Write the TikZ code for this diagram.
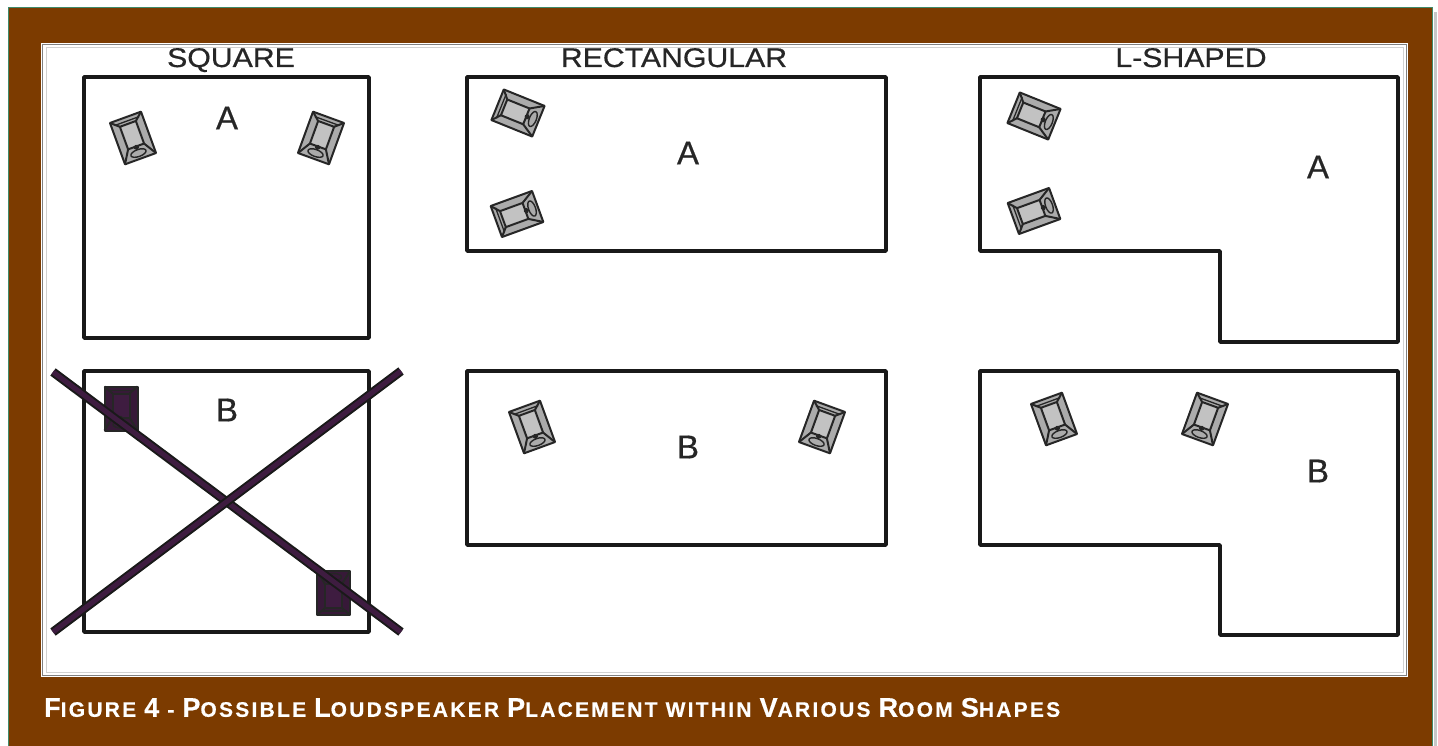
\documentclass[tikz,border=0pt]{standalone}
\usepackage{fontspec}
\usepackage{tikz,pgf}
\setmainfont{Liberation Sans}
\newfontfamily\titlefont[FakeStretch=1.12,FakeBold=0.6]{Liberation Sans}
\newfontfamily\letterfont[FakeBold=0.6]{Liberation Sans}
\newfontfamily\capfont[LetterSpace=10.7,FakeBold=0.5]{Liberation Sans Bold}
\definecolor{panelbrown}{HTML}{7C3B00}
\definecolor{paneledge}{HTML}{3F8A6A}
\definecolor{boxgrey}{HTML}{C2C2C2}
\definecolor{crosspurple}{HTML}{3E1C40}
\tikzset{
  room/.style={draw=black!90,line width=3.6pt,line join=round,inner sep=0pt},
  roomletter/.style={inner sep=0pt,font=\letterfont\fontsize{33}{33}\selectfont,text=black!85},
  roomtitle/.style={inner sep=0pt,anchor=base,font=\titlefont\fontsize{27}{27}\selectfont,text=black!85},
  crossbar/.style={draw=black!90,double=crosspurple,double distance=5pt,line width=2pt},
  spkline/.style={draw=black!85,line width=2pt,line join=round}
}
\newcommand{\Bg}[1]{{\fontsize{27}{27}\selectfont #1}}
% x, y, turn, fill
\newcommand{\spk}[4]{
\begin{scope}[shift={(#1,#2)},rotate=#3]
\filldraw[spkline,fill=#4!88!black] (-16.5,-22) rectangle (16.5,22);
\filldraw[spkline,fill=#4] (-8.5,-15) rectangle (8.5,9);
\draw[spkline] (-16.5,-22) -- (-8.5,-15);
\draw[spkline] (16.5,-22) -- (8.5,-15);
\draw[spkline] (-16.5,22) -- (-8.5,9);
\draw[spkline] (16.5,22) -- (8.5,9);
\draw[spkline,line width=1.3pt] (-13,-18) -- (13,-18);
\draw[spkline,fill=black] (0,10) circle (1.8);
\draw[spkline,line width=1.4pt] (0,16) ellipse (8 and 3.5);
\end{scope}
}

\begin{document}
\begin{tikzpicture}[x=1pt,y=-1pt]
\useasboundingbox (0,0) rectangle (1438,746);

\fill[black!22] (1434,12) rectangle (1437,746);
\filldraw[fill=panelbrown,draw=paneledge,line width=1pt] (8,8) rectangle (1432.5,748);

\fill[white] (41,43) rectangle (1408,677);
\draw[black!50,line width=1.2pt] (42.5,44.5) rectangle (1406.5,675.5);
\draw[black!18,line width=1pt] (46,48) rectangle (1403,672);

\node (sqtitle) at (231,67) [roomtitle] {SQUARE};
\node (retitle) at (674,67) [roomtitle] {RECTANGULAR};
\node (ltitle) at (1191,67) [roomtitle] {L-SHAPED};

\node (sqA) at (226.5,207.5) [room,rectangle,minimum width=285pt,minimum height=261pt] {};
\node (sqB) at (226.5,501.5) [room,rectangle,minimum width=285pt,minimum height=261pt] {};
\node (reA) at (676.5,164) [room,rectangle,minimum width=419pt,minimum height=174pt] {};
\node (reB) at (676.5,458) [room,rectangle,minimum width=419pt,minimum height=174pt] {};

\draw[room] (980,77) -- (1398,77) -- (1398,342) -- (1220,342) -- (1220,251) -- (980,251) -- cycle;
\draw[room] (980,371) -- (1398,371) -- (1398,635) -- (1220,635) -- (1220,545) -- (980,545) -- cycle;

\node (sqAl) at (227,118) [roomletter] {A};
\node (sqBl) at (227,410) [roomletter] {B};
\node (reAl) at (688,153) [roomletter] {A};
\node (reBl) at (688,447) [roomletter] {B};
\node (lAl) at (1318,167) [roomletter] {A};
\node (lBl) at (1318,471) [roomletter] {B};

\spk{133}{138}{20}{boxgrey}
\spk{321}{138}{-20}{boxgrey}
\spk{518}{113}{68}{boxgrey}
\spk{517}{214}{110}{boxgrey}
\spk{1034}{116}{68}{boxgrey}
\spk{1034}{211}{110}{boxgrey}
\spk{532}{427}{20}{boxgrey}
\spk{822}{427}{-20}{boxgrey}
\spk{1054}{419}{20}{boxgrey}
\spk{1205}{419}{-20}{boxgrey}
\spk{121}{408.5}{0}{crosspurple}
\spk{333.5}{593}{180}{crosspurple}

\coordinate (xa) at (53,372);
\coordinate (xb) at (401,632);
\coordinate (xc) at (401,371);
\coordinate (xd) at (53,632);
\draw[crossbar] (xa) -- (xb);
\draw[crossbar] (xc) -- (xd);

\node (caption) at (44,707.5) [anchor=west,inner sep=0pt,text=white,font=\capfont\fontsize{21}{21}\selectfont] {\Bg{F}IGURE \Bg{4} - \Bg{P}OSSIBLE \Bg{L}OUDSPEAKER \Bg{P}LACEMENT WITHIN \Bg{V}ARIOUS \Bg{R}OOM \Bg{S}HAPES};

\end{tikzpicture}
\end{document}
